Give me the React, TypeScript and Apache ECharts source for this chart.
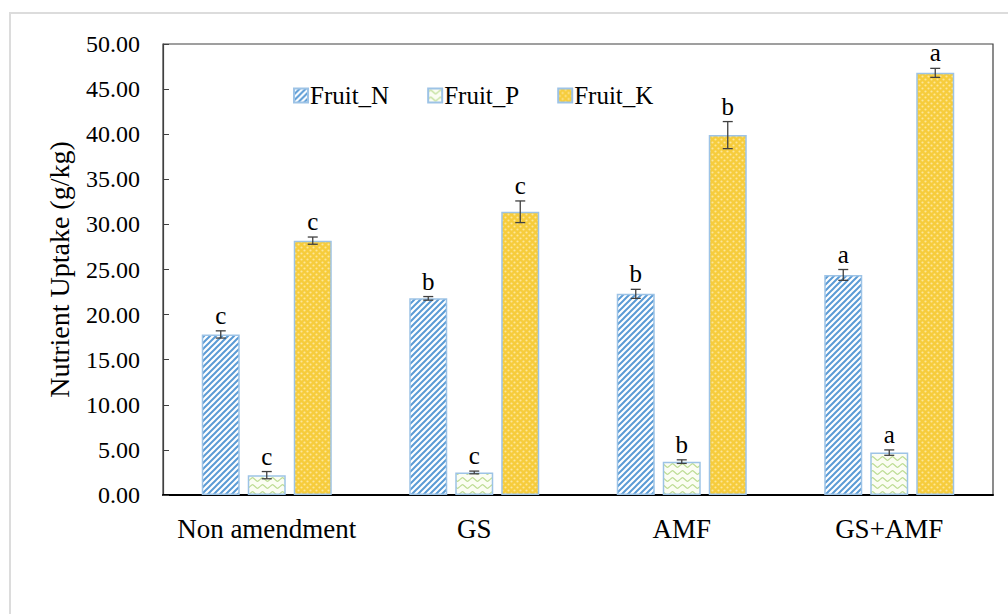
import React, { useEffect, useRef } from "react";
import * as echarts from "echarts";

const categories = ["Non amendment", "GS", "AMF", "GS+AMF"];
const seriesNames = ["Fruit_N", "Fruit_P", "Fruit_K"];
const fruitN = [17.8, 21.8, 22.3, 24.4];
const fruitP = [2.2, 2.5, 3.7, 4.7];
const fruitK = [28.2, 31.4, 39.9, 46.8];
const errN = [0.4, 0.2, 0.5, 0.6];
const errP = [0.4, 0.15, 0.2, 0.3];
const errK = [0.4, 1.2, 1.5, 0.5];
const lettersN = ["c", "b", "b", "a"];
const lettersP = ["c", "c", "b", "a"];
const lettersK = ["c", "c", "b", "a"];
const yTicks = { min: 0, max: 50, interval: 5 };

const FONT = "Liberation Serif";

function makeCanvas(w: number, h: number, draw: (c: CanvasRenderingContext2D) => void) {
  const cv = document.createElement("canvas");
  cv.width = w;
  cv.height = h;
  const ctx = cv.getContext("2d")!;
  draw(ctx);
  return cv;
}

// "////" hatch for nitrogen
function stripePattern() {
  return makeCanvas(6, 6, (c) => {
    c.fillStyle = "#ffffff";
    c.fillRect(0, 0, 6, 6);
    c.strokeStyle = "#5b9bd5";
    c.lineWidth = 2;
    c.beginPath();
    c.moveTo(-1, 7);
    c.lineTo(7, -1);
    c.moveTo(-4, 4);
    c.lineTo(4, -4);
    c.moveTo(2, 10);
    c.lineTo(10, 2);
    c.stroke();
  });
}

// light green waves for phosphorus
function wavePattern() {
  return makeCanvas(10, 7, (c) => {
    c.fillStyle = "#fbfdf3";
    c.fillRect(0, 0, 10, 7);
    c.strokeStyle = "#bcdc92";
    c.lineWidth = 1.1;
    c.beginPath();
    c.moveTo(0, 3.5);
    c.bezierCurveTo(2.5, 1, 2.5, 1, 5, 3.5);
    c.bezierCurveTo(7.5, 6, 7.5, 6, 10, 3.5);
    c.stroke();
  });
}

// dotted gold for potassium
function dotPattern() {
  return makeCanvas(6, 6, (c) => {
    c.fillStyle = "#f6cc3c";
    c.fillRect(0, 0, 6, 6);
    c.fillStyle = "#fde699";
    c.beginPath();
    c.arc(1.5, 1.5, 1.1, 0, Math.PI * 2);
    c.arc(4.5, 4.5, 1.1, 0, Math.PI * 2);
    c.fill();
  });
}

const BAR_W = 38;
const BAR_GAP = 8;

export default function App() {
  const ref = useRef<HTMLDivElement>(null);

  useEffect(() => {
    if (!ref.current) return;
    const chart = echarts.init(ref.current, undefined, { renderer: "svg" });

    const fills = [
      { image: stripePattern(), repeat: "repeat" },
      { image: wavePattern(), repeat: "repeat" },
      { image: dotPattern(), repeat: "repeat" },
    ];
    const values = [fruitN, fruitP, fruitK];
    const errs = [errN, errP, errK];
    const letters = [lettersN, lettersP, lettersK];

    const barSeries = seriesNames.map((name, i) => ({
      name,
      type: "bar",
      data: values[i],
      barWidth: BAR_W,
      barGap: `${(BAR_GAP / BAR_W) * 100}%`,
      itemStyle: {
        color: fills[i] as any,
        borderColor: "#9dc3e6",
        borderWidth: 1.5,
      },
    }));

    // error bars with significance letters on top
    const errSeries = seriesNames.map((name, i) => ({
      type: "custom",
      name: name + "_err",
      silent: true,
      z: 5,
      data: categories.map((_, k) => [k, values[i][k], errs[i][k]]),
      encode: { x: 0, y: 1 },
      renderItem: (params: any, api: any) => {
        const k = api.value(0);
        const v = api.value(1);
        const e = api.value(2);
        const letter = letters[i][k];
        const offset = (i - 1) * (BAR_W + BAR_GAP);
        const cx = api.coord([k, 0])[0] + offset;
        const yTop = api.coord([k, v + e])[1];
        const yBot = api.coord([k, v - e])[1];
        const cap = 5;
        const ls = { stroke: "#404040", lineWidth: 1.3 };
        return {
          type: "group",
          children: [
            { type: "line", shape: { x1: cx, y1: yTop, x2: cx, y2: yBot }, style: ls },
            { type: "line", shape: { x1: cx - cap, y1: yTop, x2: cx + cap, y2: yTop }, style: ls },
            { type: "line", shape: { x1: cx - cap, y1: yBot, x2: cx + cap, y2: yBot }, style: ls },
            {
              type: "text",
              style: {
                text: letter,
                x: cx,
                y: yTop - 3,
                textAlign: "center",
                textVerticalAlign: "bottom",
                fontFamily: FONT,
                fontSize: 25,
                fill: "#000",
              },
            },
          ],
        };
      },
    }));

    chart.setOption({
      animation: false,
      backgroundColor: "#ffffff",
      textStyle: { fontFamily: FONT },
      graphic: [
        {
          type: "rect",
          shape: { x: 10, y: 13, width: 1010, height: 620 },
          style: { fill: "none", stroke: "#dcdcdc", lineWidth: 2 },
          silent: true,
        },
      ],
      legend: {
        data: seriesNames,
        left: 288,
        top: 78,
        itemWidth: 14,
        itemHeight: 14,
        itemGap: 38,
        icon: "rect",
        textStyle: { fontFamily: FONT, fontSize: 25, color: "#000", padding: [0, 0, 0, -3] },
      },
      grid: {
        left: 163,
        right: 15,
        top: 44,
        bottom: 119,
        show: true,
        borderColor: "#404040",
        borderWidth: 1.2,
        backgroundColor: "transparent",
      },
      xAxis: {
        type: "category",
        data: categories,
        axisTick: { show: false },
        axisLine: { lineStyle: { color: "#000", width: 2 } },
        axisLabel: {
          interval: 0,
          hideOverlap: false,
          fontFamily: FONT,
          fontSize: 27,
          color: "#000",
          margin: 20,
        },
      },
      yAxis: {
        type: "value",
        min: yTicks.min,
        max: yTicks.max,
        interval: yTicks.interval,
        name: "Nutrient Uptake (g/kg)",
        nameLocation: "middle",
        nameGap: 90,
        nameTextStyle: { fontFamily: FONT, fontSize: 28, color: "#000" },
        splitLine: { show: false },
        axisLine: { show: true, lineStyle: { color: "#404040", width: 1.2 } },
        axisTick: { show: true, inside: true, length: 6, lineStyle: { color: "#404040" } },
        axisLabel: {
          fontFamily: FONT,
          fontSize: 24,
          color: "#000",
          margin: 23,
          formatter: (v: number) => v.toFixed(2),
        },
      },
      series: [...barSeries, ...errSeries],
    });

    return () => chart.dispose();
  }, []);

  return (
    <div
      ref={ref}
      style={{ position: "absolute", left: 0, top: 0, width: 1008, height: 614 }}
    />
  );
}
